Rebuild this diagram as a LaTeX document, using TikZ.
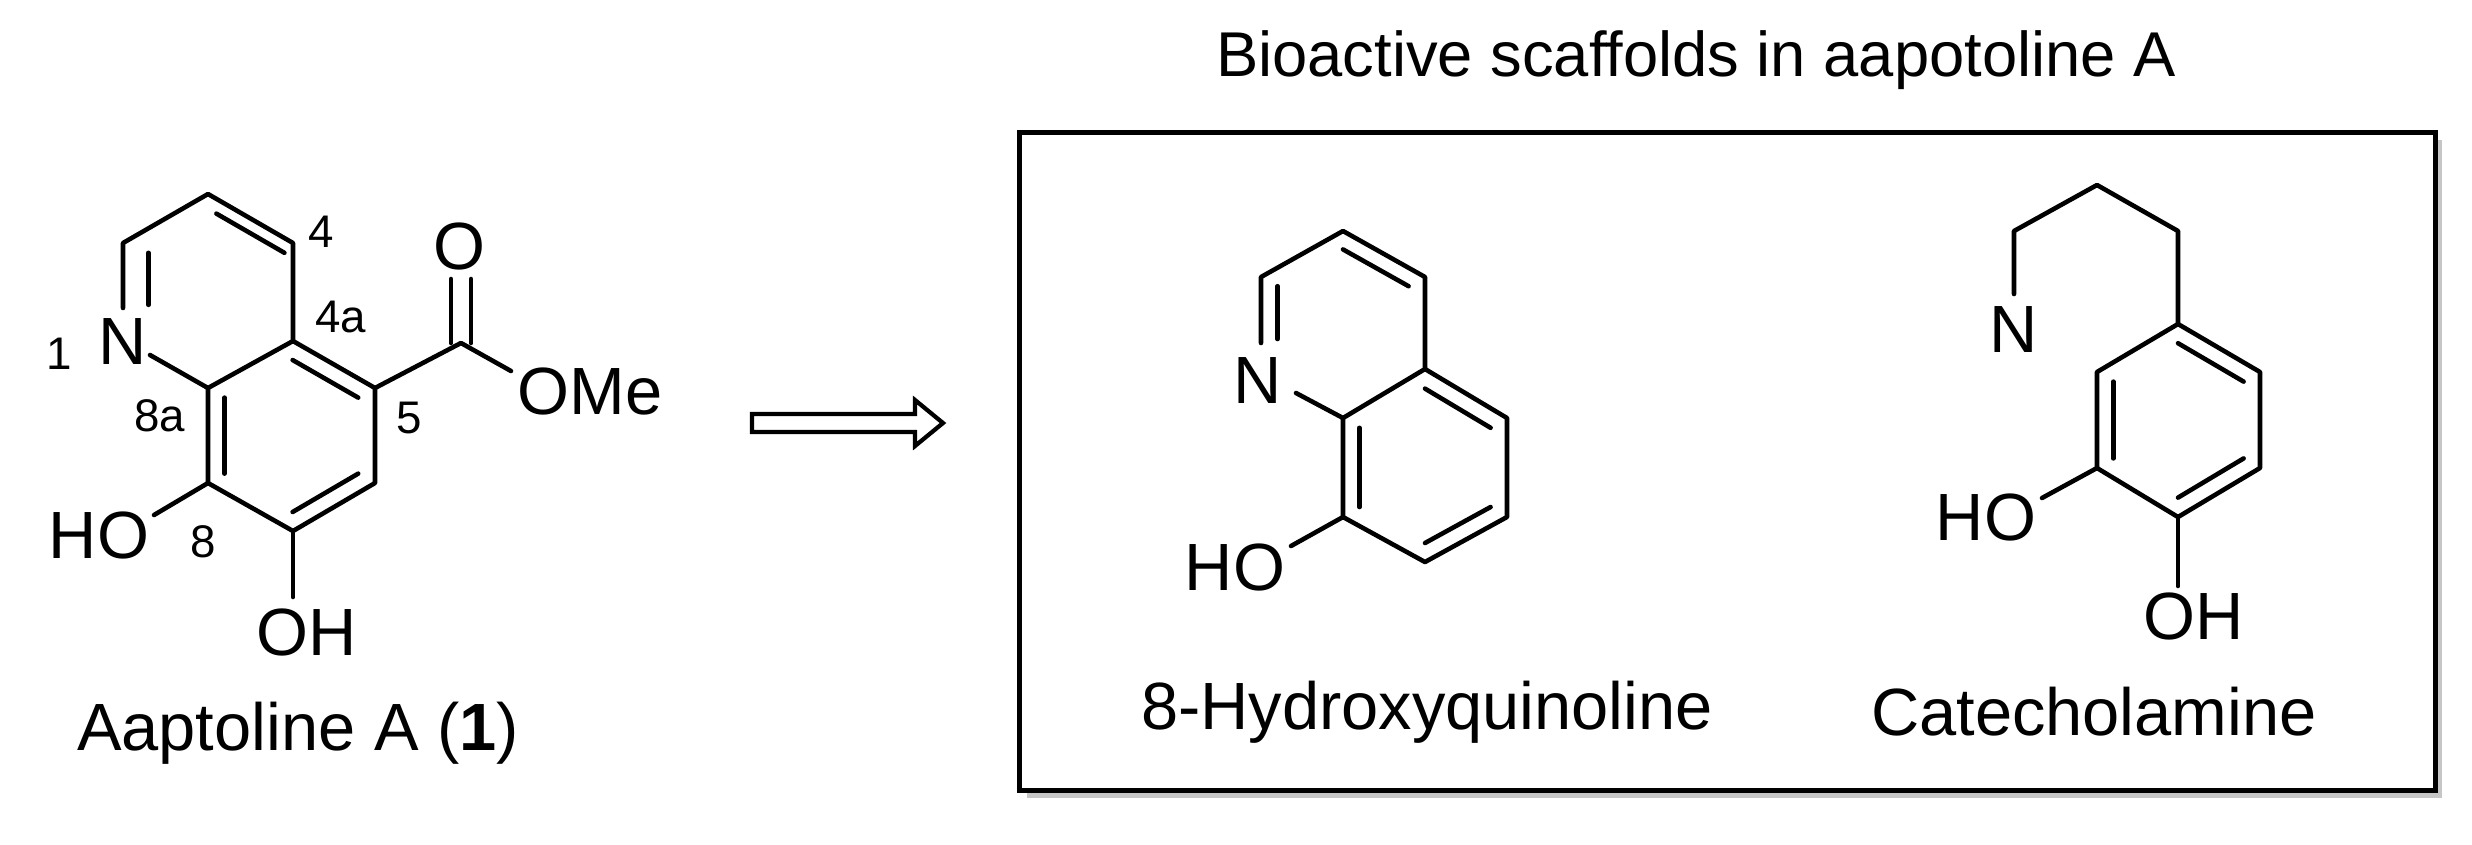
\documentclass[tikz,border=0pt]{standalone}
\usepackage{fontspec}
\setmainfont{Liberation Sans}
\usetikzlibrary{calc}
\begin{document}
\begin{tikzpicture}[x=0.01cm,y=-0.01cm,
  bond/.style={line width=1.3pt,line cap=round,line join=round},
  atom/.style={inner sep=1pt,font=\fontsize{19}{21}\selectfont},
  num/.style={inner sep=0pt,font=\fontsize{13}{15}\selectfont},
  captext/.style={inner sep=0pt,font=\fontsize{19}{22}\selectfont}]
\useasboundingbox (0,0) rectangle (2472,844);
% ---------- Aaptoline A ----------
\coordinate (a3) at (208,194);
\coordinate (a4) at (293,243);
\coordinate (a2) at (123,243);
\coordinate (aNb) at (123,308);
\coordinate (a4a) at (293,341);
\coordinate (a8a) at (208,388);
\coordinate (a8) at (208,483);
\coordinate (a7) at (293,531);
\coordinate (a6) at (375,483);
\coordinate (a5) at (375,388);
\coordinate (ar1) at (250,292);
\coordinate (ar2) at (291,436);
\coordinate (aco) at (461,343);
\coordinate (aNe) at (150,355);
\coordinate (aOe) at (511,371);
\node[atom] (aN) at (123,341) {N};
\node[atom] (aO) at (459,246) {O};
\node[atom] (aOMe) at (590,391) {OMe};
\node[atom] (aHO) at (99,535) {HO};
\node[atom] (aOH) at (307,632) {OH};
\coordinate (aHOe) at (154,515);
\coordinate (aOHe) at (293,597);
\draw[bond] (aNb)--(a2)--(a3)--(a4)--(a4a)--(a8a)--(aNe);
\draw[bond] (a4a)--(a5)--(a6)--(a7)--(a8)--(a8a);
\draw[bond] ($(aNb)!0.2!(ar1)$)--($(a2)!0.2!(ar1)$);
\draw[bond] ($(a3)!0.2!(ar1)$)--($(a4)!0.2!(ar1)$);
\draw[bond] ($(a4a)!0.2!(ar2)$)--($(a5)!0.2!(ar2)$);
\draw[bond] ($(a6)!0.2!(ar2)$)--($(a7)!0.2!(ar2)$);
\draw[bond] ($(a8)!0.2!(ar2)$)--($(a8a)!0.2!(ar2)$);
\draw[bond] (a5)--(aco)--(aOe);
\draw[bond] ($(aco)+(-10,0)$)--($(aco)+(-10,-64)$);
\draw[bond] ($(aco)+(10,0)$)--($(aco)+(10,-64)$);
\draw[bond] (a8)--(aHOe);
\draw[bond] (a7)--(aOHe);
\node[num] (n1) at (59,354) {1};
\node[num] (n4) at (321,232) {4};
\node[num] (n4a) at (341,317) {4a};
\node[num] (n8a) at (160,416) {8a};
\node[num] (n5) at (409,418) {5};
\node[num] (n8) at (203,542) {8};
\node[captext] (capA) at (298,733) {Aaptoline A (\textbf{1})};
% ---------- arrow ----------
\node[inner sep=0pt] (arrs) at (752,423) {};
\node[inner sep=0pt] (arre) at (943,423) {};
\draw[line width=1.2pt,line join=miter] (arrs.center) ++(0,-9) -- ++(163,0) -- ++(0,-14) -- (arre.center) -- ++(-28,23) -- ++(0,-14) -- ++(-163,0) -- cycle;
% ---------- box ----------
\fill[gray!45] (1027,140) rectangle (2442,798);
\node[draw,line width=1.4pt,fill=white,minimum width=14.15cm,minimum height=6.58cm,anchor=north west,inner sep=0pt] (box) at (1017,130) {};
\node[inner sep=0pt,font=\fontsize{18}{21}\selectfont] (title) at (1696,60) {Bioactive scaffolds in aapotoline A};
% 8-hydroxyquinoline
\coordinate (q3) at (1343,231);
\coordinate (q2) at (1261,277);
\coordinate (q4) at (1425,277);
\coordinate (qNb) at (1261,343);
\coordinate (q4a) at (1425,369);
\coordinate (q8a) at (1343,418);
\coordinate (q5) at (1507,418);
\coordinate (q6) at (1507,517);
\coordinate (q7) at (1425,562);
\coordinate (q8) at (1343,517);
\coordinate (qr1) at (1343,323);
\coordinate (qr2) at (1425,467);
\coordinate (qNe) at (1296,393);
\coordinate (qHOe) at (1291,546);
\node[atom] (qN) at (1258,380) {N};
\node[atom] (qHO) at (1235,567) {HO};
\draw[bond] (qNb)--(q2)--(q3)--(q4)--(q4a)--(q8a)--(qNe);
\draw[bond] (q4a)--(q5)--(q6)--(q7)--(q8)--(q8a);
\draw[bond] ($(qNb)!0.2!(qr1)$)--($(q2)!0.2!(qr1)$);
\draw[bond] ($(q3)!0.2!(qr1)$)--($(q4)!0.2!(qr1)$);
\draw[bond] ($(q4a)!0.2!(qr2)$)--($(q5)!0.2!(qr2)$);
\draw[bond] ($(q6)!0.2!(qr2)$)--($(q7)!0.2!(qr2)$);
\draw[bond] ($(q8)!0.2!(qr2)$)--($(q8a)!0.2!(qr2)$);
\draw[bond] (q8)--(qHOe);
\node[captext] (capQ) at (1427,712) {8-Hydroxyquinoline};
% catecholamine
\coordinate (cc2) at (2097,185);
\coordinate (cc1) at (2014,231);
\coordinate (cNb) at (2014,294);
\coordinate (cc3) at (2178,231);
\coordinate (r1) at (2178,324);
\coordinate (r2) at (2097,372);
\coordinate (r6) at (2260,372);
\coordinate (r3) at (2097,468);
\coordinate (r5) at (2260,468);
\coordinate (r4) at (2178,517);
\coordinate (rc) at (2178,420);
\coordinate (cHOe) at (2042,498);
\coordinate (cOHe) at (2178,586);
\node[atom] (cN) at (2014,329) {N};
\node[atom] (cHO) at (1986,517) {HO};
\node[atom] (cOH) at (2194,616) {OH};
\draw[bond] (cNb)--(cc1)--(cc2)--(cc3)--(r1);
\draw[bond] (r1)--(r2)--(r3)--(r4)--(r5)--(r6)--cycle;
\draw[bond] ($(r1)!0.2!(rc)$)--($(r6)!0.2!(rc)$);
\draw[bond] ($(r2)!0.2!(rc)$)--($(r3)!0.2!(rc)$);
\draw[bond] ($(r4)!0.2!(rc)$)--($(r5)!0.2!(rc)$);
\draw[bond] (r3)--(cHOe);
\draw[bond] (r4)--(cOHe);
\node[captext] (capC) at (2094,712) {Catecholamine};
\end{tikzpicture}
\end{document}
